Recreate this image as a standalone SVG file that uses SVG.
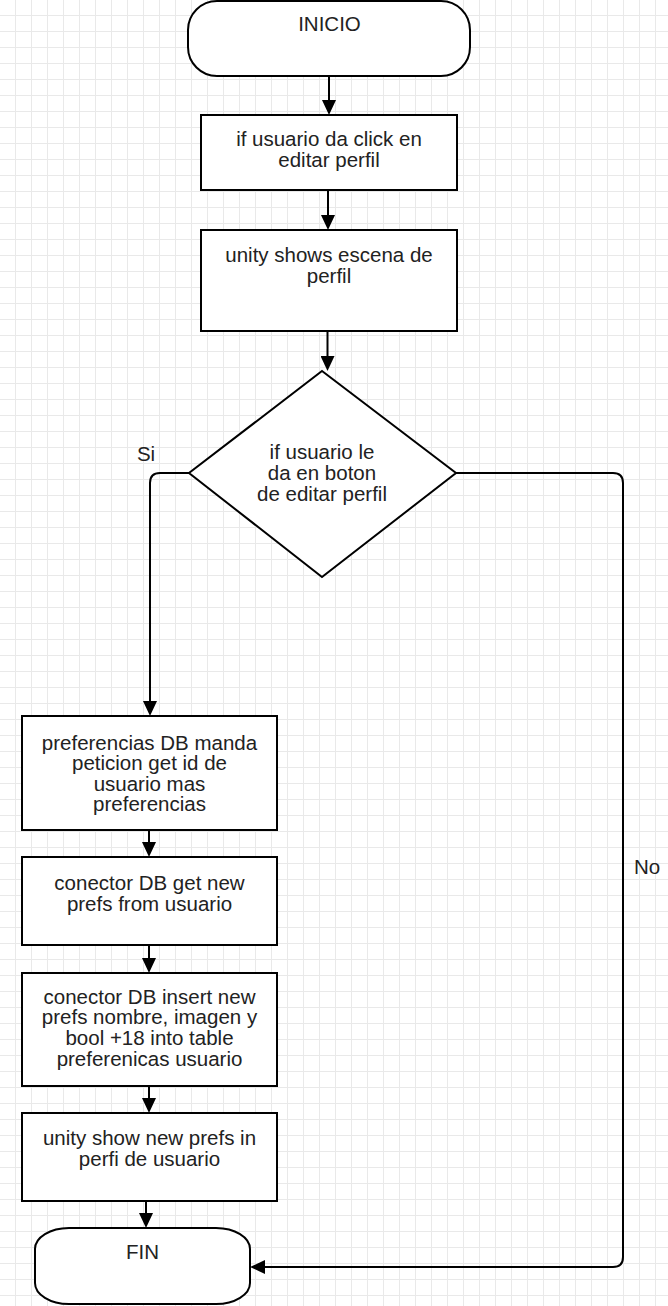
<svg xmlns="http://www.w3.org/2000/svg" width="668" height="1306" viewBox="0 0 668 1306">
<style>
.shape{fill:#fff;stroke:#000;stroke-width:2}
.edge{fill:none;stroke:#000;stroke-width:2}
text{font-family:"Liberation Sans",Arial,sans-serif;font-size:20.5px;fill:#222;text-anchor:middle}
</style>
<defs>
<pattern id="grid" patternUnits="userSpaceOnUse" x="0" y="0" width="16" height="16">
<path d="M15.5 0V16M0 15.5H16" fill="none" stroke="#e9e9e9" stroke-width="1"/>
</pattern>
<marker id="arr" viewBox="0 0 15 14" refX="0" refY="7" markerWidth="15" markerHeight="14" markerUnits="userSpaceOnUse" orient="auto">
<path d="M0,0L15,7L0,14z" fill="#000"/>
</marker>
</defs>
<rect width="668" height="1306" fill="#fff"/>
<rect width="668" height="1306" fill="url(#grid)"/>
<g id="connectors">
<path class="edge" d="M329,76V100" marker-end="url(#arr)"/>
<path class="edge" d="M328,190V215" marker-end="url(#arr)"/>
<path class="edge" d="M327.5,331V356" marker-end="url(#arr)"/>
<path class="edge" d="M189,473H160Q150,473 150,483V701" marker-end="url(#arr)"/>
<path class="edge" d="M456,473H613Q623,473 623,483V1257Q623,1267 613,1267H265" marker-end="url(#arr)"/>
<path class="edge" d="M149,830V842" marker-end="url(#arr)"/>
<path class="edge" d="M149,945V958" marker-end="url(#arr)"/>
<path class="edge" d="M149,1086V1098" marker-end="url(#arr)"/>
<path class="edge" d="M146,1201V1213" marker-end="url(#arr)"/>
<text x="146" y="461">Si</text>
<text x="647" y="874">No</text>
</g>
<g id="inicio">
<rect class="shape" x="188" y="1" width="282" height="75" rx="29" ry="29"/>
<text x="329.5" y="31">INICIO</text>
</g>
<g id="click">
<rect class="shape" x="201" y="115" width="256" height="75"/>
<text x="329" y="146">if usuario da click en</text>
<text x="329" y="167">editar perfil</text>
</g>
<g id="escena">
<rect class="shape" x="201" y="230" width="256" height="101"/>
<text x="329" y="262">unity shows escena de</text>
<text x="329" y="283">perfil</text>
</g>
<g id="decision">
<path class="shape" d="M322,371L456,473L322,577L189,473Z"/>
<text x="322" y="459">if usuario le</text>
<text x="322" y="480">da en boton</text>
<text x="322" y="501">de editar perfil</text>
</g>
<g id="peticion">
<rect class="shape" x="22" y="716" width="255" height="114"/>
<text x="149.5" y="749.5">preferencias DB manda</text>
<text x="149.5" y="770">peticion get id de</text>
<text x="149.5" y="790.7">usuario mas</text>
<text x="149.5" y="811">preferencias</text>
</g>
<g id="getprefs">
<rect class="shape" x="22" y="857" width="255" height="88"/>
<text x="149.5" y="889.5">conector DB get new</text>
<text x="149.5" y="910.5">prefs from usuario</text>
</g>
<g id="insert">
<rect class="shape" x="22" y="973" width="255" height="113"/>
<text x="149.5" y="1003.5">conector DB insert new</text>
<text x="149.5" y="1024.2">prefs nombre, imagen y</text>
<text x="149.5" y="1045">bool +18 into table</text>
<text x="149.5" y="1065.5">preferenicas usuario</text>
</g>
<g id="show">
<rect class="shape" x="22" y="1113" width="255" height="88"/>
<text x="149.5" y="1145">unity show new prefs in</text>
<text x="149.5" y="1165.5">perfi de usuario</text>
</g>
<g id="fin">
<rect class="shape" x="35" y="1228" width="215" height="76" rx="34" ry="21"/>
<text x="142.5" y="1259">FIN</text>
</g>
</svg>
